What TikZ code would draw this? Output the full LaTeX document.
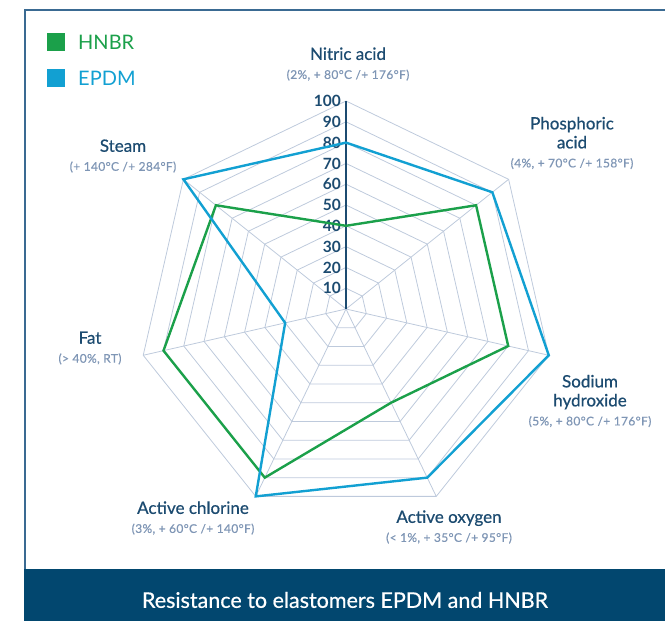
\documentclass[tikz,border=0pt]{standalone}
\usepackage{fontspec}
\setmainfont{Lato}
\newfontfamily\medfont[FakeBold=0.6]{Lato}
\usetikzlibrary{calc}

\definecolor{navy}{HTML}{1C4B70}
\definecolor{subgray}{HTML}{7F96B5}
\definecolor{gridgray}{HTML}{BECADC}
\definecolor{hnbrgreen}{HTML}{1BA04A}
\definecolor{epdmblue}{HTML}{12A0D2}
\definecolor{banner}{HTML}{02476F}
\definecolor{framecol}{HTML}{3A6A92}

\newcommand{\subtext}[1]{{\fontsize{12}{19}\selectfont\color{subgray}\addfontfeature{LetterSpace=3}#1}}

\begin{document}
\begin{tikzpicture}[x=1pt,y=-1pt,
	gridline/.style={draw=gridgray, line width=0.8pt},
	axisline/.style={draw=navy, line width=1.3pt},
	series/.style={line width=2.4pt, line join=miter},
	cat/.style={align=center, text=navy, font=\medfont\fontsize{17}{19}\selectfont, inner sep=0pt},
	tick/.style={anchor=east, text=navy, font=\fontsize{15.5}{15}\bfseries, inner sep=0pt},
	legbox/.style={minimum width=18pt, minimum height=18pt, inner sep=0pt}]

	\useasboundingbox (0,0) rectangle (665,621);

	% frame and banner
	\fill[banner] (24,569) rectangle (665,621);
	\draw[framecol, line width=1.6pt] (25,569) -- (25,10) -- (665,10);
	\node (caption) [text=white, font=\medfont\fontsize{21.5}{21}\selectfont] at (345,600) {Resistance to elastomers EPDM and HNBR};

	% legend
	\node (g0) [legbox, fill=hnbrgreen] at (56,42) {};
	\node (g1) [legbox, fill=epdmblue] at (56,78) {};
	\node (l0) [anchor=west, text=hnbrgreen, font=\fontsize{20}{20}\selectfont, inner sep=0pt] at (78,42) {HNBR};
	\node (l1) [anchor=west, text=epdmblue, font=\fontsize{20}{20}\selectfont, inner sep=0pt] at (78,78) {EPDM};

	% grid
	\coordinate (c) at (346,309);
	\foreach \k in {0,...,6}
		\coordinate (s\k) at ({346+208*cos(90+\k*360/7)}, {309-208*sin(90+\k*360/7)});
	\foreach \k in {1,...,6}
		\draw[gridline] (c) -- (s\k);
	\foreach \r in {1,...,10}
		\draw[gridline] ($(c)!\r/10!(s0)$) -- ($(c)!\r/10!(s1)$) -- ($(c)!\r/10!(s2)$)
			-- ($(c)!\r/10!(s3)$) -- ($(c)!\r/10!(s4)$) -- ($(c)!\r/10!(s5)$)
			-- ($(c)!\r/10!(s6)$) -- cycle;
	\draw[axisline] (c) -- (s0);
	\foreach \v in {10,20,...,100}
		\node (t\v) [tick] at ({341}, {309-2.08*\v}) {\v};

	% series
	\draw[series, draw=hnbrgreen] ($(c)!0.4!(s0)$) -- ($(c)!0.8!(s1)$) -- ($(c)!0.9!(s2)$)
		-- ($(c)!0.9!(s3)$) -- ($(c)!0.5!(s4)$) -- ($(c)!0.8!(s5)$) -- ($(c)!0.8!(s6)$) -- cycle;
	\draw[series, draw=epdmblue] ($(c)!0.8!(s0)$) -- ($(c)!1!(s1)$) -- ($(c)!0.3!(s2)$)
		-- ($(c)!1!(s3)$) -- ($(c)!0.9!(s4)$) -- ($(c)!1!(s5)$) -- ($(c)!0.9!(s6)$) -- cycle;

	% categories
	\node (nitric) [cat] at (348,64) {Nitric acid\\\subtext{(2\%, + 80°C /+ 176°F)}};
	\node (phosphoric) [cat] at (572,143) {Phosphoric\\acid\\\subtext{(4\%, + 70°C /+ 158°F)}};
	\node (sodium) [cat] at (590,401) {Sodium\\hydroxide\\\subtext{(5\%, + 80°C /+ 176°F)}};
	\node (oxygen) [cat] at (449,527) {Active oxygen\\\subtext{(< 1\%, + 35°C /+ 95°F)}};
	\node (chlorine) [cat] at (193,518) {Active chlorine\\\subtext{(3\%, + 60°C /+ 140°F)}};
	\node (fat) [cat] at (90,348) {Fat\\\subtext{(> 40\%, RT)}};
	\node (steam) [cat] at (123,156) {Steam\\\subtext{(+ 140°C /+ 284°F)}};

\end{tikzpicture}
\end{document}
